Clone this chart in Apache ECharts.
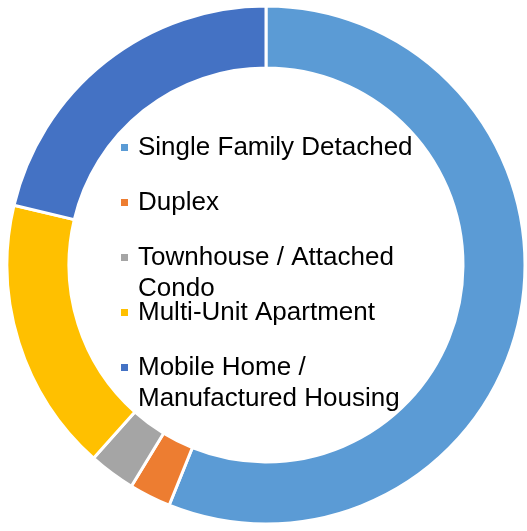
<!DOCTYPE html>
<html>
<head>
<meta charset="utf-8">
<script src="https://cdn.jsdelivr.net/npm/echarts@6/dist/echarts.min.js"></script>
<style>
  html, body { margin: 0; padding: 0; background: #fff; }
  #chart { width: 527px; height: 531px; }
</style>
</head>
<body>
<div id="chart"></div>
<script>
// housing types, read clockwise from 12 o'clock
var categories = ['Single Family Detached', 'Duplex', 'Townhouse / Attached Condo', 'Multi-Unit Apartment', 'Mobile Home / Manufactured Housing'];
var shares = [56.1, 2.6, 2.9, 17.1, 21.3];
// how the legend wraps each name
var legendLabels = ['Single Family Detached', 'Duplex', 'Townhouse / Attached\nCondo', 'Multi-Unit Apartment', 'Mobile Home /\nManufactured Housing'];
var colors = ['#5B9BD5', '#ED7D31', '#A5A5A5', '#FFC000', '#4472C4'];

var chart = echarts.init(document.getElementById('chart'));

// one legend block per entry so every entry starts 55px below the previous one
var legends = categories.map(function (name, i) {
  var twoLines = legendLabels[i].indexOf('\n') >= 0;
  return {
    orient: 'vertical',
    left: 121,
    top: 132 + i * 55,
    padding: 0,
    itemWidth: 7,
    itemHeight: twoLines ? 38 : 7,
    // square sits on the first line of a wrapped label
    icon: twoLines ? 'path://M0,0L7,0L7,7L0,7Z M7,38L7,38' : 'rect',
    itemStyle: { borderWidth: 0 },
    selectedMode: false,
    data: [name],
    formatter: function () { return legendLabels[i]; },
    textStyle: {
      fontFamily: 'Liberation Sans, Arial, sans-serif',
      fontSize: 26,
      lineHeight: 31,
      color: '#000',
      padding: [0, 0, 0, 5]
    }
  };
});

chart.setOption({
  animation: false,
  color: colors,
  legend: legends,
  series: [{
    type: 'pie',
    center: [266, 265],
    radius: [197, 259],
    startAngle: 90,
    clockwise: true,
    label: { show: false },
    labelLine: { show: false },
    emphasis: { disabled: true },
    itemStyle: {
      borderColor: '#fff',
      borderWidth: 3
    },
    data: categories.map(function (name, i) {
      return { name: name, value: shares[i] };
    })
  }]
});
</script>
</body>
</html>
